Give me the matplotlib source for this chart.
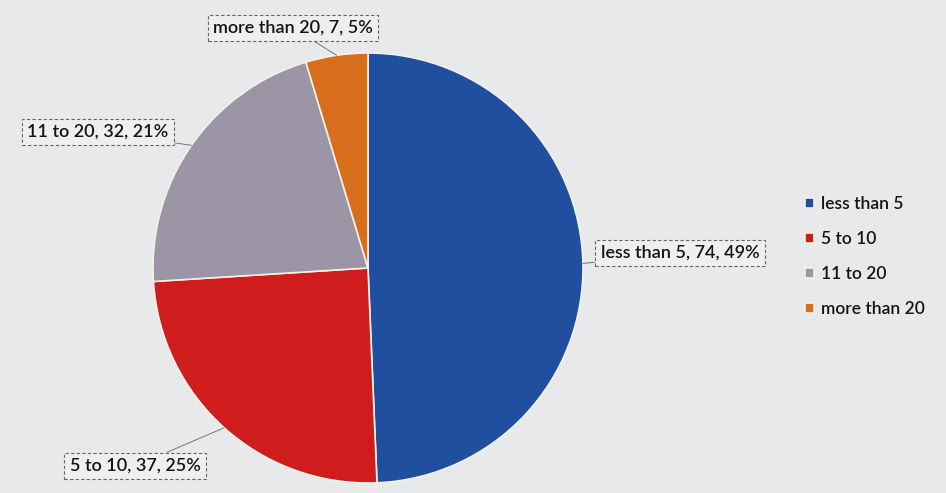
import matplotlib
matplotlib.use("Agg")
import matplotlib.pyplot as plt
import numpy as np

categories = ["less than 5", "5 to 10", "11 to 20", "more than 20"]
values = [74, 37, 32, 7]
colors = ["#1f4f9e", "#cf1d1d", "#9b95a5", "#d86d1c"]
# label positions (figure pixels, from the top-left) for the data labels
label_pos_px = [(680, 253), (135, 466), (98, 132), (293, 28)]

W, H = 946, 493
fig = plt.figure(figsize=(W / 100, H / 100), dpi=100)
fig.patch.set_facecolor("#e8e9ea")

FONT = ["Lato", "DejaVu Sans"]

cx, cy, r = 368, 268, 215
ax = fig.add_axes([(cx - r) / W, (H - cy - r) / H, 2 * r / W, 2 * r / H])
ax.set_facecolor("none")
wedges, _ = ax.pie(values, colors=colors, startangle=90, counterclock=False,
                   wedgeprops=dict(edgecolor="#f4f1e6", linewidth=1.2))
ax.set_xlim(-1, 1)
ax.set_ylim(-1, 1)
ax.set_aspect("equal")
ax.axis("off")

total = sum(values)
for w, cat, v, (lx, ly) in zip(wedges, categories, values, label_pos_px):
    mid = np.deg2rad((w.theta1 + w.theta2) / 2)
    pct = round(100 * v / total)
    ax.annotate(f"{cat}, {v}, {pct}%",
                xy=(np.cos(mid), np.sin(mid)), xycoords="data",
                xytext=(lx / W, 1 - ly / H), textcoords="figure fraction",
                ha="center", va="center", fontsize=13, family=FONT,
                fontweight="semibold", color="#141414",
                bbox=dict(boxstyle="square,pad=0.3", fc="#efefef",
                          ec="#666666", ls=(0, (3, 2)), lw=0.8),
                arrowprops=dict(arrowstyle="-", color="#777777", lw=0.7,
                                shrinkA=0, shrinkB=0))

leg = fig.legend(wedges, categories, loc="upper left",
                 bbox_to_anchor=(798 / W, 1 - 189 / H),
                 frameon=False,
                 prop=dict(family=FONT, size=12.5, weight="semibold"),
                 handlelength=0.55, handleheight=0.55, handletextpad=0.35,
                 labelspacing=1.1, borderaxespad=0)
for t in leg.get_texts():
    t.set_color("#141414")

fig.savefig("out.png", dpi=100, facecolor=fig.get_facecolor())
